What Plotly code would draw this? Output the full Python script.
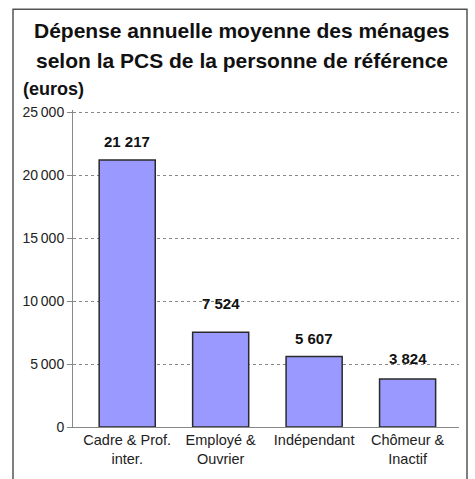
import plotly.graph_objects as go

categories = ["Cadre & Prof.<br>inter.", "Employé &<br>Ouvrier", "Indépendant", "Chômeur &<br>Inactif"]
values = [21217, 7524, 5607, 3824]
tick_vals = [0, 5000, 10000, 15000, 20000, 25000]
tick_text = ["0", "5\u2009000", "10\u2009000", "15\u2009000", "20\u2009000", "25\u2009000"]

W, H = 475, 479
L, R, T, B = 73, 16, 110, 39
pw, ph = W - L - R, H - T - B

def px(x):
    return (x - L) / pw

def py(y):
    return (H - B - y) / ph

def fmt(v):
    return f"{v:,}".replace(",", " ")

fig = go.Figure()
fig.add_trace(go.Bar(
    x=list(range(len(categories))), y=values,
    marker=dict(color="#9999FF", line=dict(color="#2a2a2a", width=1.5)),
    width=0.6,
))

label_shift = [19, 29, 18, 20]
for i, v in enumerate(values):
    fig.add_annotation(x=i, y=v, text="<b>" + fmt(v) + "</b>", showarrow=False,
                       yanchor="middle", yshift=label_shift[i],
                       font=dict(family="Arial, Liberation Sans", size=15, color="#111111"))

fig.add_annotation(xref="paper", yref="paper", x=px(242), y=py(27),
                   text="<b>Dépense annuelle moyenne des ménages</b>", showarrow=False,
                   xanchor="center", yanchor="middle",
                   font=dict(family="Arial, Liberation Sans", size=21, color="#111111"))
fig.add_annotation(xref="paper", yref="paper", x=px(242), y=py(58),
                   text="<b>selon la PCS de la personne de référence</b>", showarrow=False,
                   xanchor="center", yanchor="middle",
                   font=dict(family="Arial, Liberation Sans", size=21, color="#111111"))
fig.add_annotation(xref="paper", yref="paper", x=px(21), y=py(88),
                   text="<b>(euros)</b>", showarrow=False,
                   xanchor="left", yanchor="middle",
                   font=dict(family="Arial, Liberation Sans", size=18, color="#111111"))

fig.add_shape(type="rect", xref="paper", yref="paper",
              x0=px(13), x1=px(467), y0=py(495), y1=py(5),
              line=dict(color="#555555", width=1.5), layer="below")

fig.update_layout(
    width=W, height=H,
    margin=dict(l=L, r=R, t=T, b=B),
    paper_bgcolor="white", plot_bgcolor="white",
    showlegend=False,
    xaxis=dict(
        range=[-0.58, 3.55], tickvals=list(range(len(categories))), ticktext=categories,
        showgrid=False, showline=True, linecolor="#888888", linewidth=1,
        ticks="", zeroline=False,
        tickfont=dict(family="Arial, Liberation Sans", size=14.5, color="#222222"),
        fixedrange=True,
    ),
    yaxis=dict(
        range=[0, 25200], tickvals=tick_vals, ticktext=tick_text,
        showgrid=True, gridcolor="#888888", griddash="dot", gridwidth=1,
        showline=True, linecolor="#888888", linewidth=1,
        ticks="outside", ticklen=5, tickcolor="#888888",
        zeroline=False,
        tickfont=dict(family="Arial, Liberation Sans", size=14, color="#222222"),
        fixedrange=True,
    ),
)

fig.write_html("out.html", config={"displayModeBar": False},
               post_script="document.body.style.margin='0';")
